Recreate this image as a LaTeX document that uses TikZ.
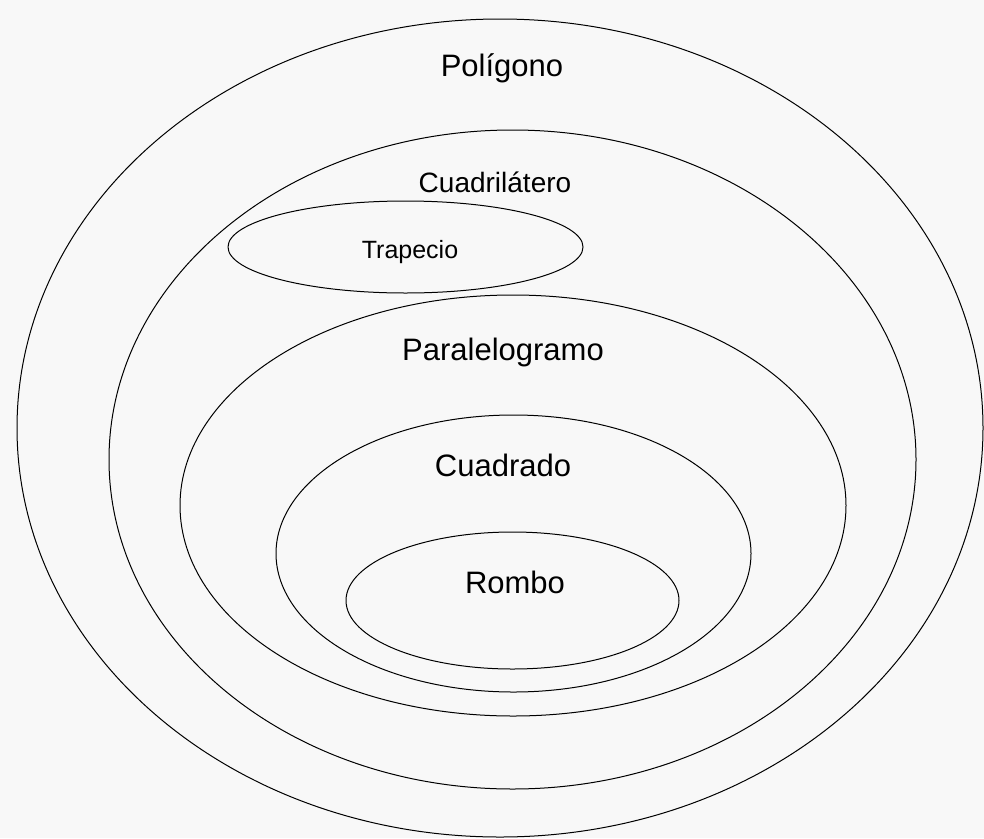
\documentclass[tikz,border=0pt]{standalone}
\usepackage{fontspec}
\setmainfont{Liberation Sans}
\definecolor{papel}{RGB}{248,248,248}
\begin{document}
\begin{tikzpicture}[x=1pt,y=-1pt,line width=1pt,line join=round,line cap=round,
		rotulo/.style={anchor=base,inner sep=0pt}]
	\fill[papel] (0,0) rectangle (984,838);
	\useasboundingbox (0,0) rectangle (984,838);
	% conjuntos: centro x, centro y, radio x, radio y
	\foreach \cx/\cy/\rx/\ry in {500/428/483/409, 512.5/459.5/403.5/329.5, 405.5/247/177.5/46,
		513/505.5/333/210.5, 513.5/553.5/237.5/138.5, 512.5/600.5/166.5/68.5}
	{\draw (\cx,\cy) ellipse [x radius=\rx,y radius=\ry];}
	\node[rotulo] (poligono) at (502,76) {\fontsize{31}{36}\selectfont Polígono};
	\node[rotulo] (cuadrilatero) at (495,192) {\fontsize{28}{33}\selectfont Cuadrilátero};
	\node[rotulo] (trapecio) at (410,258) {\fontsize{25}{30}\selectfont Trapecio};
	\node[rotulo] (paralelogramo) at (503,360) {\fontsize{31}{36}\selectfont Paralelogramo};
	\node[rotulo] (cuadrado) at (503,476) {\fontsize{31}{36}\selectfont Cuadrado};
	\node[rotulo] (rombo) at (515,593) {\fontsize{31}{36}\selectfont Rombo};
\end{tikzpicture}
\end{document}
